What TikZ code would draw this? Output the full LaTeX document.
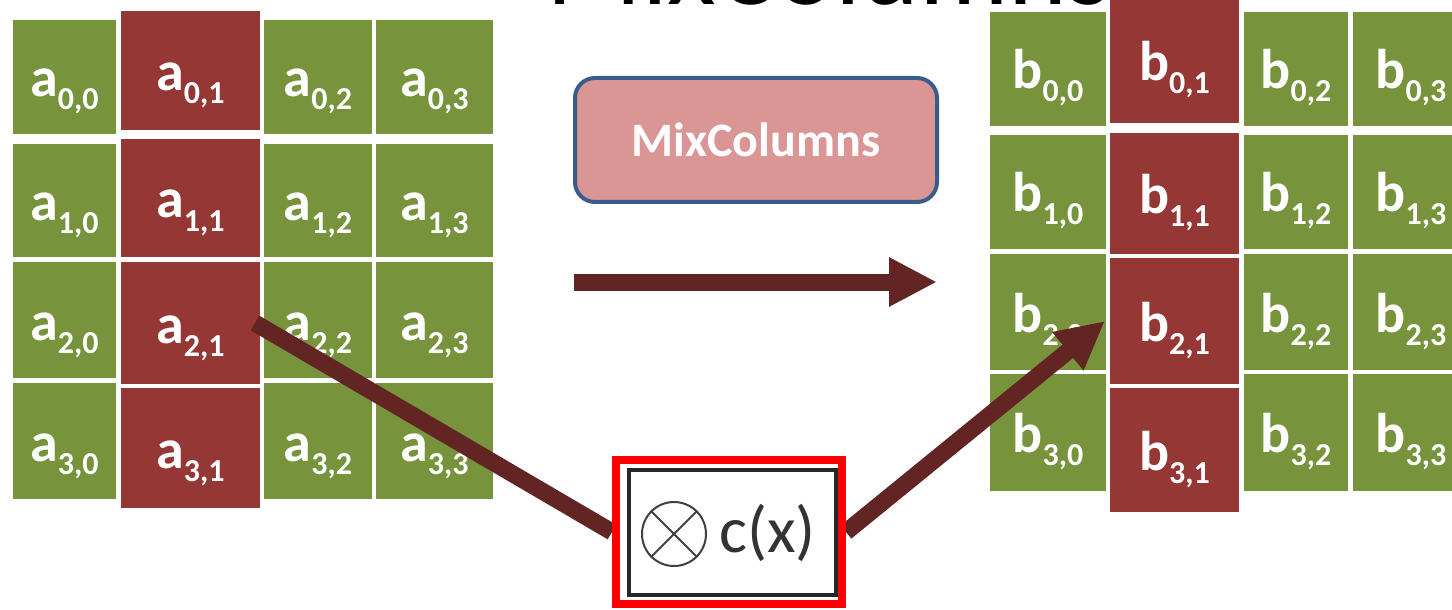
\documentclass[tikz,border=0pt]{standalone}
\usepackage{fontspec}
\setmainfont{Carlito}
\usetikzlibrary{arrows.meta}
\definecolor{cellgreen}{HTML}{77933C}
\definecolor{cellred}{HTML}{953735}
\definecolor{boxrose}{HTML}{D99694}
\definecolor{boxblue}{HTML}{385D8A}
\definecolor{arrowred}{HTML}{632523}
\newcommand\idx[1]{\raisebox{-6.5pt}{\fontsize{16}{16}\selectfont #1}}
\pgfdeclarelayer{top}
\pgfsetlayers{main,top}

\begin{document}
\begin{tikzpicture}[x=0.5pt,y=-0.5pt,line join=round,
	cell/.style={draw=white,line width=0.8pt,inner sep=0pt,outer sep=0pt,text=white,
		font=\fontsize{28}{28}\selectfont\bfseries,text height=20pt,text depth=0pt},
	bigarrow/.style={draw=arrowred,line width=8.5pt,-{Triangle[length=24pt,width=23pt]}}]
	\useasboundingbox (0,0) rectangle (1452,610);
	\clip (0,0) rectangle (1452,610);
	\node[anchor=base west,inner sep=0pt,font=\fontsize{56}{56}\selectfont] (title) at (546,5) {MixColumns};
	% state a
	\foreach \c/\x/\w in {0/64.5/105,2/318/110,3/434.5/119}
		\foreach \r/\y/\h in {0/77/116,1/200.5/115,2/320/118,3/441/118}
			\node[cell,fill=cellgreen,minimum width=\w*0.5pt,minimum height=\h*0.5pt] (a-\r-\c) at (\x,\y) {a\idx{\r,\c}};
	\foreach \r/\y/\h in {0/70.5/121,1/198/120,2/323/124,3/448/122}
		\node[cell,fill=cellred,minimum width=70.5pt,minimum height=\h*0.5pt] (a-\r-1) at (190.5,\y) {a\idx{\r,1}};
	% state b
	\foreach \c/\x/\w in {0/1048/118,2/1296/106,3/1411/118}
		\foreach \r/\y/\h in {0/69/116,1/192/116,2/312/118,3/432.5/119}
			\node[cell,fill=cellgreen,minimum width=\w*0.5pt,minimum height=\h*0.5pt] (b-\r-\c) at (\x,\y) {b\idx{\r,\c}};
	\foreach \r/\y/\h in {0/61/126,1/193.5/123,2/321/128,3/450/126}
		\node[cell,fill=cellred,minimum width=65.5pt,minimum height=\h*0.5pt] (b-\r-1) at (1174.5,\y) {b\idx{\r,1}};
	\node[draw=boxblue,line width=2pt,fill=boxrose,rounded corners=10pt,minimum width=181pt,minimum height=62pt,
		text=white,font=\fontsize{24}{24}\selectfont\bfseries] (mix) at (756,140) {MixColumns};
	\coordinate (go-l) at (574,282);
	\coordinate (go-r) at (937,282);
	\draw[bigarrow] (go-l) -- (go-r);
	% c(x) box
	\begin{pgfonlayer}{top}
		\node[draw=red,line width=4pt,fill=white,minimum width=113pt,minimum height=72pt] (mult) at (729,532) {};
		\node[draw=black!85,line width=2pt,minimum width=103.5pt,minimum height=62.5pt] (mult-in) at (732.5,532.5) {};
		\node[circle,draw=black!75,line width=1pt,minimum size=32pt,inner sep=0pt] (otimes) at (674,534) {};
		\draw[black!75,line width=1pt] (otimes.north west) -- (otimes.south east)
			(otimes.north east) -- (otimes.south west);
		\node[anchor=west,inner sep=0pt,text=black!80,font=\fontsize{33}{33}\selectfont] (cx) at (719,533) {c(x)};
	\end{pgfonlayer}
	\draw[draw=arrowred,line width=8.5pt] ([xshift=-3pt]a-2-1.east) -- (mult.west);
	\draw[bigarrow] (mult.east) -- ([xshift=-2pt]b-2-1.west);
\end{tikzpicture}
\end{document}
